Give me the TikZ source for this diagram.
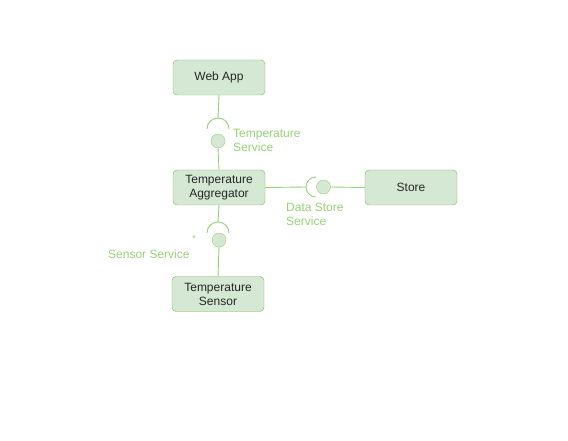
\documentclass[tikz,border=0pt]{standalone}
\usepackage{fontspec}
\setmainfont{Liberation Sans}
\usepackage{tikz}
\usetikzlibrary{positioning}

\definecolor{boxfill}{HTML}{D5E8D4}
\definecolor{boxline}{HTML}{82B366}
\definecolor{linkgreen}{HTML}{97D077}

\begin{document}
\begin{tikzpicture}[
                          x=1pt, y=-1pt,
                          font=\fontsize{12}{14}\selectfont,
                          compnode/.style={rectangle, rounded corners=4pt, draw=boxline, fill=boxfill, align=center, minimum width=92pt, minimum height=35pt, inner sep=0pt, text=black!85},
                          ballnode/.style={circle, draw=linkgreen, fill=boxfill, minimum size=14pt, inner sep=0pt},
                          labelnode/.style={text=linkgreen, align=left, anchor=west, inner sep=0pt},
                          link/.style={draw=linkgreen, line width=0.9pt},
                      ]
                      \useasboundingbox (0,0) rectangle (568,441);
                      %Nodes
                      \node[compnode]       (webapp)      at (219,77.5)    {Web App};
                      \node[compnode]       (aggregator)  at (219,187.5)   {Temperature\\Aggregator};
                      \node[compnode]       (store)       at (411,187.5)   {Store};
                      \node[compnode]       (sensor)      at (218,294)     {Temperature\\Sensor};

                      \node[ballnode]       (ball_temp)   at (218,141)     {};
                      \node[ballnode]       (ball_store)  at (323.5,187)   {};
                      \node[ballnode]       (ball_sensor) at (219,240)     {};

                      \coordinate           (socket_temp)    at (218,118);
                      \coordinate           (socket_store)   at (306,187);
                      \coordinate           (socket_sensor)  at (218,222);

                      \node[labelnode]      (lbl_temp)    at (233,140)     {Temperature\\Service};
                      \node[labelnode]      (lbl_store)   at (286,214)     {Data Store\\Service};
                      \node[labelnode]      (lbl_sensor)  at (108,254)     {Sensor Service};
                      \node[text=linkgreen, inner sep=0pt, font=\fontsize{9}{9}\selectfont] (star) at (194,238) {*};

                      %Sockets
                      \draw[link] (socket_temp) ++(-11,11) arc[start angle=180, end angle=360, radius=11];
                      \draw[link] (socket_store) ++(10,-10) arc[start angle=270, end angle=90, radius=10];
                      \draw[link] (socket_sensor) ++(-11,11) arc[start angle=180, end angle=360, radius=11];

                      %Lines
                      \draw[link] (webapp.south) -- (socket_temp);
                      \draw[link] (ball_temp.south) -- (aggregator.north);
                      \draw[link] (aggregator.east) -- (socket_store);
                      \draw[link] (ball_store.east) -- (store.west);
                      \draw[link] (aggregator.south) -- (socket_sensor);
                      \draw[link] (ball_sensor.south) -- (sensor.north);
                  \end{tikzpicture}
\end{document}
